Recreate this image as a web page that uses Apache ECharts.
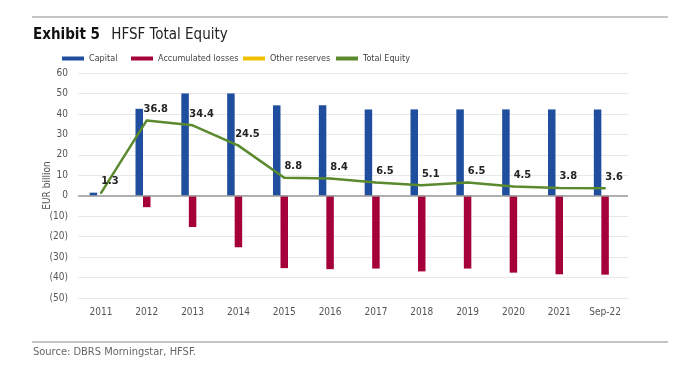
<!DOCTYPE html>
<html><head><meta charset="utf-8">
<script src="https://cdn.jsdelivr.net/npm/echarts@6/dist/echarts.min.js"></script>
<style>html,body{margin:0;padding:0;background:#fff}#c{width:700px;height:365px}</style>
</head><body><div id="c"></div>
<script>
const categories = ['2011','2012','2013','2014','2015','2016','2017','2018','2019','2020','2021','Sep-22'];
const capital = [1.5, 42.5, 50, 50, 44.2, 44.2, 42.2, 42.2, 42.2, 42.2, 42.2, 42.2];
const accumulatedLosses = [0, -5.6, -15.3, -25.2, -35.4, -35.9, -35.6, -37.0, -35.6, -37.6, -38.4, -38.6];
const otherReserves = [0, 0, 0, 0, 0, 0, 0, 0, 0, 0, 0, 0];
const totalEquity = [1.3, 36.8, 34.4, 24.5, 8.8, 8.4, 6.5, 5.1, 6.5, 4.5, 3.8, 3.6];
const yTicks = {min: -50, max: 60, interval: 10};

const FONT = '"DejaVu Sans Condensed",sans-serif';
const legendItems = [
  {name: 'Capital', left: 62},
  {name: 'Accumulated losses', left: 131},
  {name: 'Other reserves', left: 243},
  {name: 'Total Equity', left: 336}
];
const chart = echarts.init(document.getElementById('c'));
chart.setOption({
  animation: false,
  textStyle: {fontFamily: FONT},
  title: {
    text: '{a|Exhibit 5}  {b|HFSF Total Equity}',
    left: 28, top: 21,
    textStyle: {rich: {
      a: {fontFamily: FONT, fontWeight: 'bold', fontSize: 15, color: '#111'},
      b: {fontFamily: FONT, fontWeight: 'normal', fontSize: 15, color: '#222'}
    }}
  },
  graphic: [
    {type: 'line', shape: {x1: 32, y1: 17, x2: 668, y2: 17}, style: {stroke: '#8a8a8a', lineWidth: 1}},
    {type: 'line', shape: {x1: 32, y1: 342, x2: 668, y2: 342}, style: {stroke: '#8a8a8a', lineWidth: 1}},
    {type: 'text', left: 33, top: 347, style: {text: 'Source: DBRS Morningstar, HFSF.', font: '11px ' + FONT, fill: '#666'}}
  ],
  legend: legendItems.map(it => ({
    top: 54, left: it.left, padding: 0, itemWidth: 22, itemHeight: 4, itemGap: 4,
    textStyle: {fontSize: 9, color: '#444', fontFamily: FONT},
    data: [{name: it.name, icon: 'rect'}]
  })),
  grid: {left: 78, right: 72, top: 73, bottom: 67},
  xAxis: {
    type: 'category', data: categories,
    axisLine: {show: false}, axisTick: {show: false},
    axisLabel: {color: '#555', fontSize: 10, margin: 9, fontFamily: FONT}
  },
  yAxis: {
    type: 'value', min: yTicks.min, max: yTicks.max, interval: yTicks.interval,
    name: 'EUR billion', nameLocation: 'middle', nameGap: 26, nameRotate: 90,
    nameMoveOverlap: false,
    nameTextStyle: {color: '#555', fontSize: 10, fontFamily: FONT},
    axisLine: {show: false}, axisTick: {show: false},
    axisLabel: {color: '#555', fontSize: 10, margin: 10, fontFamily: FONT,
      formatter: v => v < 0 ? '(' + Math.abs(v) + ')' : String(v)},
    splitLine: {lineStyle: {color: '#e8e8e8', width: 1}}
  },
  series: [
    {name: 'Capital', type: 'bar', data: capital, barWidth: 7.5, barGap: '0%',
     itemStyle: {color: '#1F4E9E'},
     markLine: {silent: true, symbol: 'none', label: {show: false},
       lineStyle: {color: '#999', width: 1.5, type: 'solid'}, data: [{yAxis: 0}]}},
    {name: 'Accumulated losses', type: 'bar', data: accumulatedLosses, barWidth: 7.5, barGap: '0%',
     itemStyle: {color: '#A6003A'}},
    {name: 'Other reserves', type: 'bar', data: otherReserves, barWidth: 7.5, barGap: '0%',
     itemStyle: {color: '#F0C000'}},
    {name: 'Total Equity', type: 'line', data: totalEquity, showSymbol: true, symbol: 'circle', symbolSize: 2,
     lineStyle: {color: '#5B8A2E', width: 2.5}, itemStyle: {color: '#5B8A2E'},
     label: {show: true, position: 'top', offset: [9, 0], fontSize: 11, fontWeight: 'bold',
       color: '#222', fontFamily: FONT, formatter: p => p.value.toFixed(1)}, z: 5}
  ]
});
</script></body></html>
